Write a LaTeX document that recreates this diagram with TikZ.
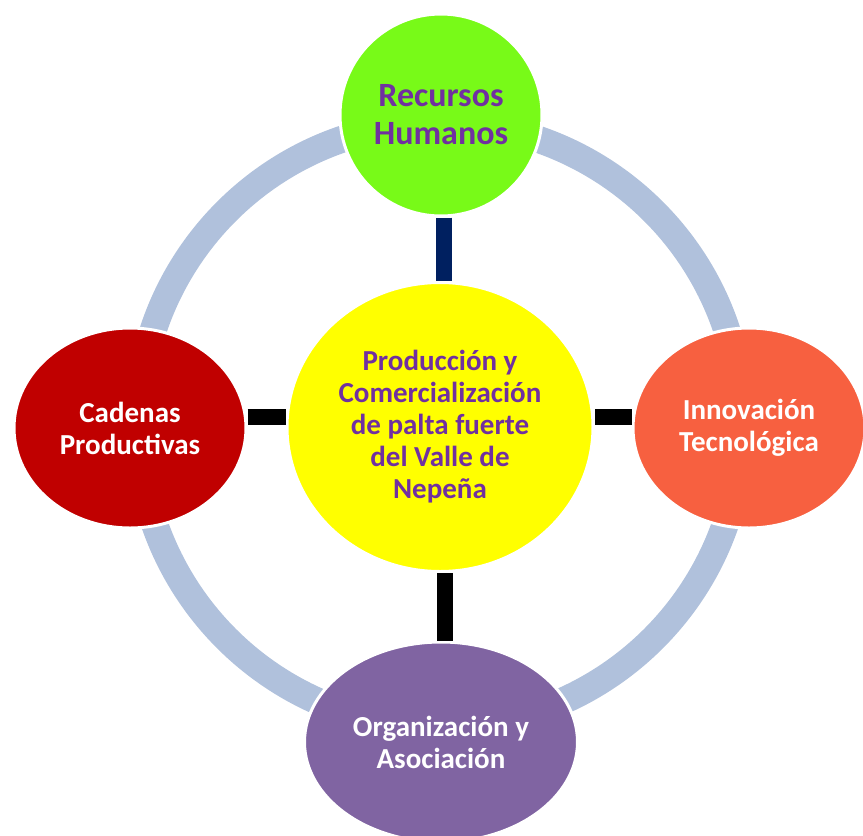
\documentclass[tikz,border=0pt]{standalone}
\usepackage{fontspec}
\setmainfont{Carlito}
\usetikzlibrary{shapes.geometric}
\definecolor{ringBlue}{RGB}{176,193,220}
\definecolor{nodeGreen}{RGB}{120,250,24}
\definecolor{nodeYellow}{RGB}{255,255,0}
\definecolor{nodeRed}{RGB}{192,0,0}
\definecolor{nodeOrange}{RGB}{247,96,64}
\definecolor{nodePurple}{RGB}{128,100,162}
\definecolor{textPurple}{RGB}{112,48,160}
\definecolor{linkNavy}{RGB}{0,32,96}

\begin{document}
\begin{tikzpicture}[x=1pt, y=-1pt,
    blob/.style={ellipse, draw=white, line width=3pt, inner sep=0pt,
      align=center, text=white, font=\bfseries\fontsize{29}{32}\selectfont},
    link/.style={line width=16pt}]
      \useasboundingbox (0,0) rectangle (863,836);

      % Ring behind the nodes
      \draw[ringBlue, line width=27pt] (440,425) circle (302pt);

      % Centre
      \node[blob, fill=nodeYellow, text=textPurple, minimum width=306pt, minimum height=289pt]
        (prod) at (440,427) {Producción y\\Comercialización\\de palta fuerte\\del Valle de\\Nepeña};

      % Outer nodes
      \node[blob, circle, fill=nodeGreen, text=textPurple, minimum size=202pt,
        font=\bfseries\fontsize{34}{38}\selectfont] (rrhh) at (441,115) {Recursos\\Humanos};
      \node[blob, fill=nodeRed, minimum width=232pt, minimum height=200pt]
        (cad) at (130,428) {Cadenas\\Productivas};
      \node[blob, fill=nodeOrange, minimum width=232pt, minimum height=200pt]
        (inno) at (749,428) {Innovación\\Tecnológica};
      \node[blob, fill=nodePurple, minimum width=273pt, minimum height=200pt]
        (org) at (441,742) {Organización y\\Asociación};

      % Links to the centre (slightly off the centre lines, as drawn)
      \draw[link, linkNavy] ([xshift=3pt]rrhh.south) -- ([xshift=3pt]rrhh.south |- prod.north);
      \draw[link] ([yshift=11pt]cad.east) -- ([yshift=11pt]cad.east -| prod.west);
      \draw[link] ([yshift=11pt]inno.west) -- ([yshift=11pt]inno.west -| prod.east);
      \draw[link] ([xshift=4pt]org.north) -- ([xshift=4pt]org.north |- prod.south);
    \end{tikzpicture}
\end{document}
